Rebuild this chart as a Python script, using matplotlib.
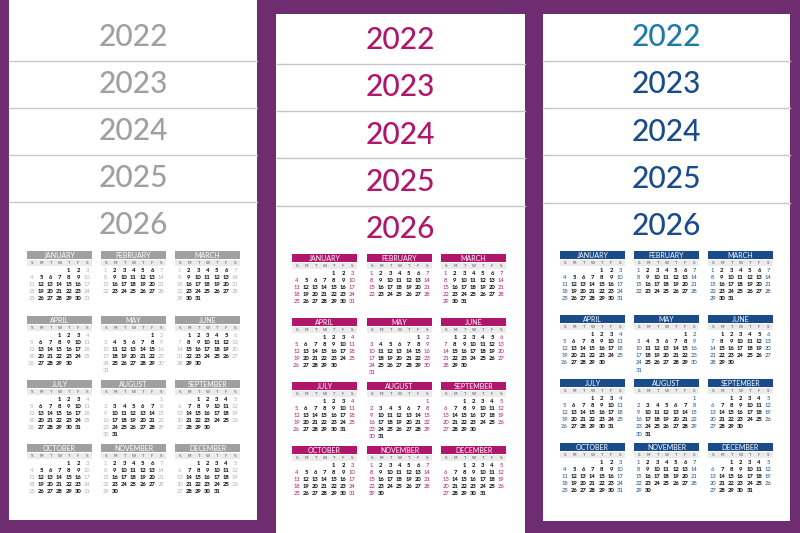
import calendar
import matplotlib
matplotlib.use("Agg")
import matplotlib.pyplot as plt
from matplotlib.patches import Rectangle

years = ["2022", "2023", "2024", "2025", "2026"]
months = ["JANUARY", "FEBRUARY", "MARCH", "APRIL", "MAY", "JUNE",
          "JULY", "AUGUST", "SEPTEMBER", "OCTOBER", "NOVEMBER", "DECEMBER"]
weekdays = ["S", "M", "T", "W", "T", "F", "S"]
cal_year = 2026

panels = [
    dict(x0=9, x1=257, y0=0, y1=520, ytop=37, ystep=47, color="#a0a0a0", first="#a0a0a0",
         wkend="#b0b0b0", cols=[27, 101, 175], rows=[251, 316, 380, 444]),
    dict(x0=276, x1=525, y0=14, y1=533, ytop=40, ystep=47.3, color="#b0166c", first="#b0166c",
         wkend="#b0166c", cols=[292, 367, 441], rows=[254, 318, 382, 446]),
    dict(x0=543, x1=790, y0=14, y1=521, ytop=37, ystep=47.3, color="#1a4c8c", first="#1e7aa6",
         wkend="#1a4c8c", cols=[560, 634, 708], rows=[251, 315, 379, 443]),
]

fig = plt.figure(figsize=(8, 5.33), dpi=100)
fig.patch.set_facecolor("#6e2d70")
ax = fig.add_axes([0, 0, 1, 1])
ax.set_xlim(0, 800)
ax.set_ylim(533, 0)
ax.axis("off")

cal = calendar.Calendar(firstweekday=6)
for p in panels:
    ax.add_patch(Rectangle((p["x0"], p["y0"]), p["x1"] - p["x0"], p["y1"] - p["y0"],
                           facecolor="white", edgecolor="none"))
    cx = (p["x0"] + p["x1"]) / 2
    for i, yr in enumerate(years):
        yc = p["ytop"] + i * p["ystep"]
        ax.text(cx, yc, yr, ha="center", va="center", fontsize=21.5, family="Lato",
                weight="medium", color=p["first"] if i == 0 else p["color"])
        if i < 4:
            ly = yc + p["ystep"] / 2
            ax.plot([p["x0"], p["x1"]], [ly, ly], color="#c8c4cc", lw=1)
    w = 65
    cw = w / 7
    for m in range(12):
        mx = p["cols"][m % 3]
        my = p["rows"][m // 3]
        ax.add_patch(Rectangle((mx, my), w, 8, facecolor=p["color"], edgecolor="none"))
        ax.text(mx + w / 2, my + 4.3, months[m], ha="center", va="center", fontsize=5,
                color="white", family="Lato")
        ax.add_patch(Rectangle((mx, my + 8.5), w, 6, facecolor="#ebebeb", edgecolor="none"))
        for d, wd in enumerate(weekdays):
            ax.text(mx + cw * (d + 0.5), my + 11.6, wd, ha="center", va="center",
                    fontsize=3, color="#555555")
        weeks = cal.monthdayscalendar(cal_year, m + 1)
        for r, wk in enumerate(weeks):
            for d, day in enumerate(wk):
                if day == 0:
                    continue
                weekend = d in (0, 6)
                ax.text(mx + cw * (d + 0.5), my + 19.5 + r * 7.1, str(day), ha="center",
                        va="center", fontsize=4.2, family="Lato",
                        weight="normal" if weekend else "bold",
                        color=p["wkend"] if weekend else "black")

fig.savefig("out.png", dpi=100, facecolor=fig.get_facecolor())
